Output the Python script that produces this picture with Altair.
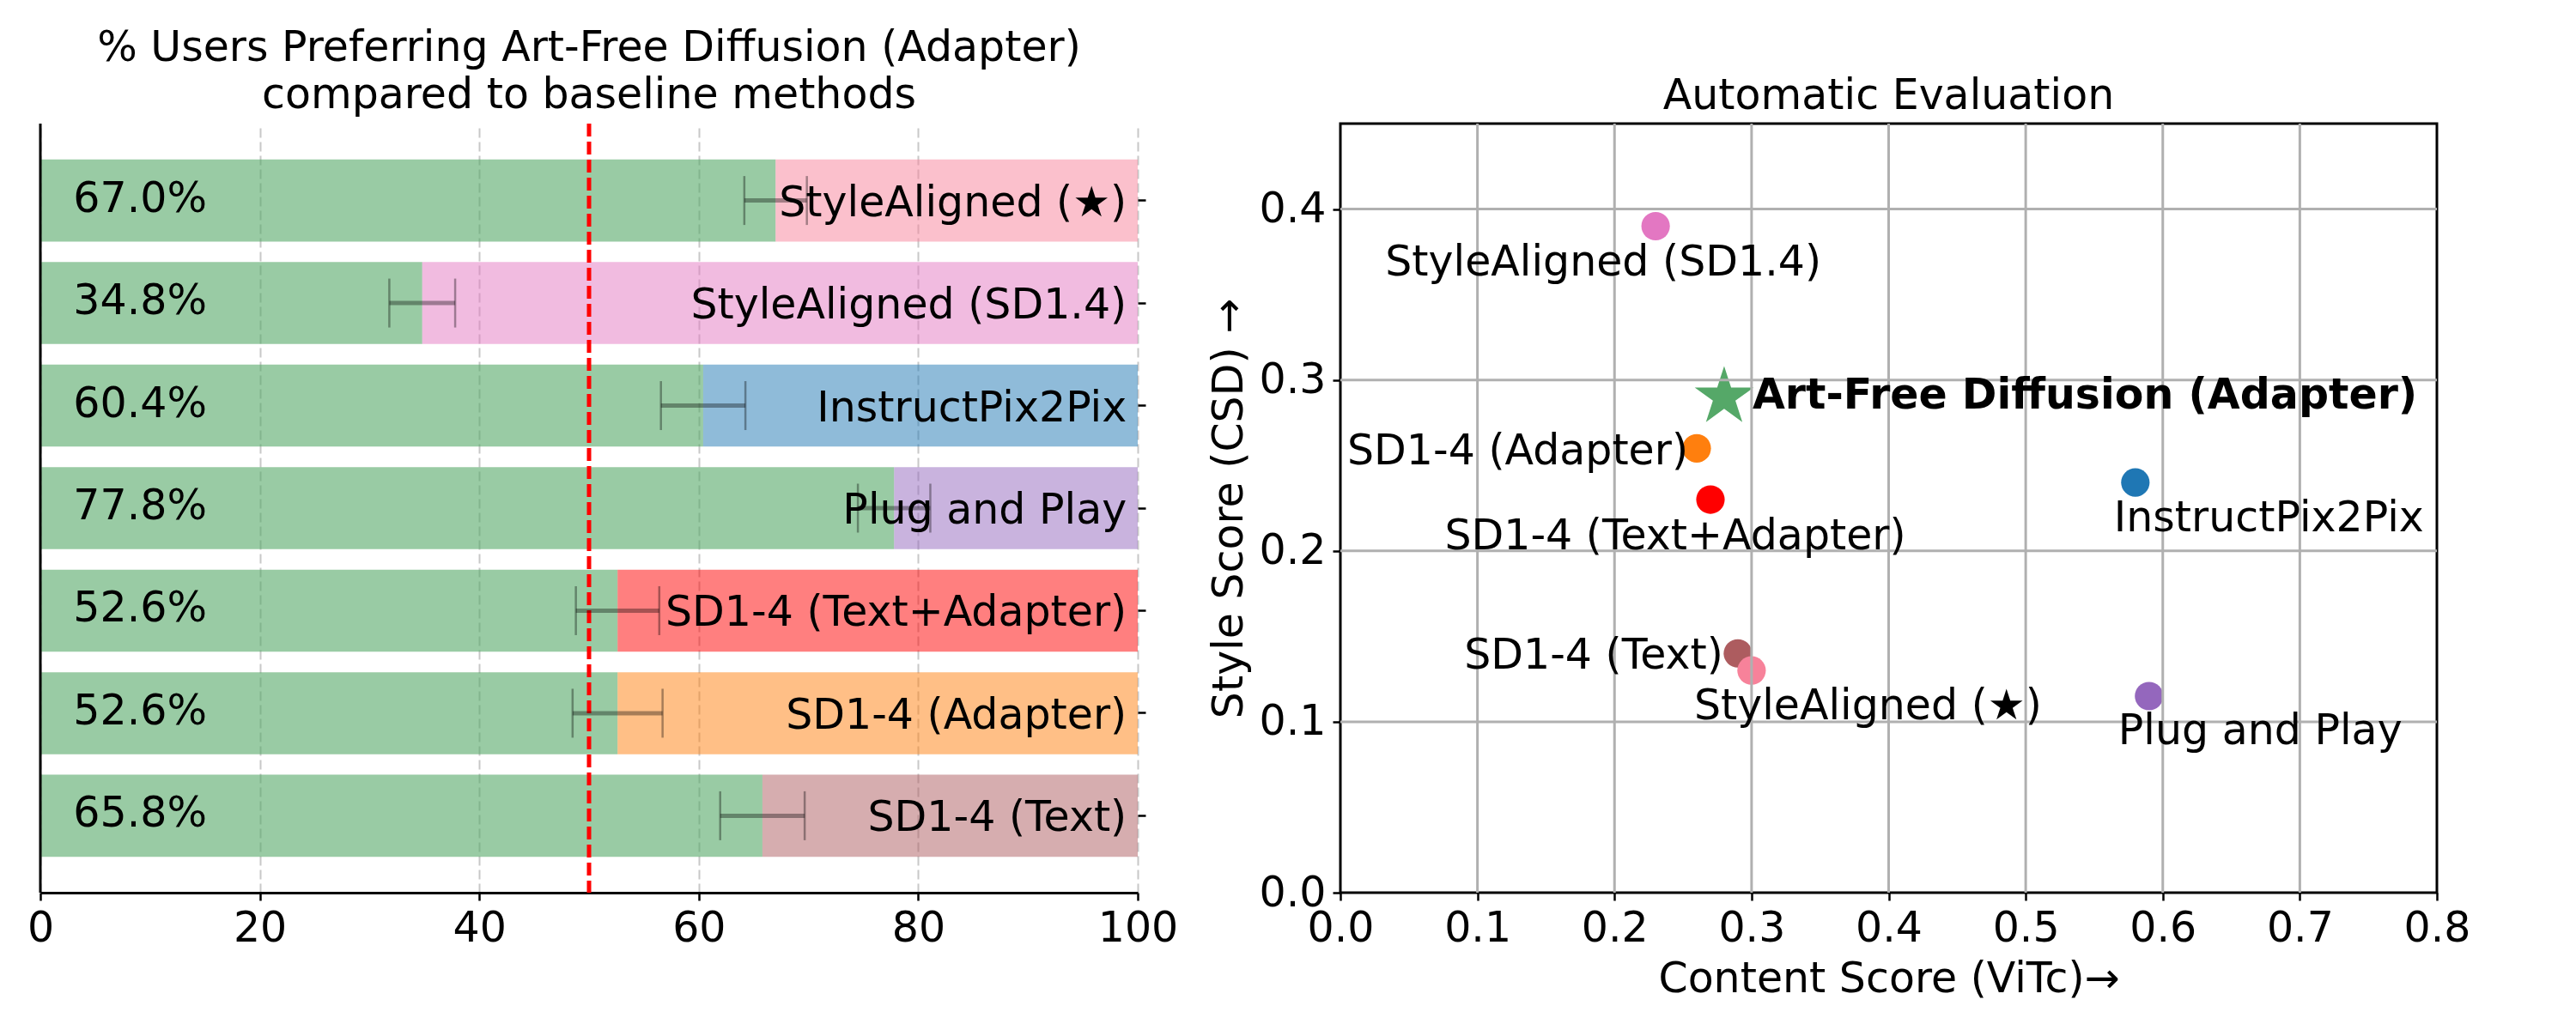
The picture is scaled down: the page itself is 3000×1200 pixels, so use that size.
import altair as alt
import pandas as pd

# ---------------- data: user study (left) ----------------
methods = ["StyleAligned (★)", "StyleAligned (SD1.4)", "InstructPix2Pix", "Plug and Play",
           "SD1-4 (Text+Adapter)", "SD1-4 (Adapter)", "SD1-4 (Text)"]
preference = [67.0, 34.8, 60.4, 77.8, 52.6, 52.6, 65.8]
pref_err = [2.85, 3.0, 3.85, 3.3, 3.8, 4.1, 3.85]
method_colors = ["#f7829a", "#e377c2", "#1f77b4", "#9467bd", "#ff0000", "#ff7f0e", "#ad5c5f"]
pref_ticks = [0, 20, 40, 60, 80, 100]
chance_level = 50
left_title = ["% Users Preferring Art-Free Diffusion (Adapter)", "compared to baseline methods"]

# ---------------- data: automatic evaluation (right) ----------------
eval_names = ["StyleAligned (SD1.4)", "SD1-4 (Adapter)", "SD1-4 (Text+Adapter)", "InstructPix2Pix",
              "Plug and Play", "SD1-4 (Text)", "StyleAligned (★)"]
content_score = [0.23, 0.26, 0.27, 0.58, 0.59, 0.29, 0.30]
style_score = [0.39, 0.26, 0.23, 0.24, 0.115, 0.14, 0.13]
ours_name = "Art-Free Diffusion (Adapter)"
ours_content = [0.28]
ours_style = [0.29]
content_ticks = [0.0, 0.1, 0.2, 0.3, 0.4, 0.5, 0.6, 0.7, 0.8]
style_ticks = [0.0, 0.1, 0.2, 0.3, 0.4]
style_max = 0.45

FONT = "DejaVu Sans"
FS = 49
GREEN = "#55a868"
STAR = ("M0,-1L0.2245,-0.309L0.9511,-0.309L0.3633,0.118L0.5878,0.809L0,0.382"
        "L-0.5878,0.809L-0.3633,0.118L-0.9511,-0.309L-0.2245,-0.309Z")

# ================= left chart =================
bar_df = pd.DataFrame({"method": methods, "pref": preference, "err": pref_err})
bar_df["lo"] = bar_df["pref"] - bar_df["err"]
bar_df["hi"] = bar_df["pref"] + bar_df["err"]

xs_bar = alt.Scale(domain=[0, 100], nice=False)
y_bar = alt.Y("method:N", sort=methods,
              scale=alt.Scale(domain=methods, paddingInner=0.2, paddingOuter=0.35),
              axis=alt.Axis(orient="right", labels=False, domain=False, ticks=True, tickSize=9,
                            tickWidth=2.5, tickColor="black", grid=False, title=None))
x_axis_bar = alt.Axis(values=pref_ticks, format="d", title=None, grid=True, gridDash=[11, 5],
                      gridColor="#c8c8c8", gridWidth=2, domainColor="black", domainWidth=3,
                      tickColor="black", tickWidth=2.5, tickSize=9, labelFontSize=FS,
                      labelColor="black", labelPadding=8, labelFlush=False, labelOverlap=False)

base = alt.Chart(bar_df)
green = base.mark_bar(color=GREEN, opacity=0.6).encode(
    x=alt.X("pref:Q", scale=xs_bar, axis=x_axis_bar), y=y_bar)
rest = base.mark_bar(opacity=0.5).encode(
    x=alt.X("pref:Q", scale=xs_bar), x2=alt.datum(100), y=alt.Y("method:N", sort=methods),
    color=alt.Color("method:N", scale=alt.Scale(domain=methods, range=method_colors), legend=None))
one = alt.Chart(pd.DataFrame({"k": [0]}))
spine = one.mark_rule(color="black", strokeWidth=3).encode(x=alt.datum(0))
chance = one.mark_rule(color="red", strokeWidth=5, strokeDash=[15, 6]).encode(x=alt.datum(chance_level))
err_line = base.mark_rule(color="black", opacity=0.35, strokeWidth=5).encode(
    x="lo:Q", x2="hi:Q", y=alt.Y("method:N", sort=methods))
cap_lo = base.mark_tick(color="black", opacity=0.35, thickness=2.5, size=57).encode(
    x="lo:Q", y=alt.Y("method:N", sort=methods))
cap_hi = base.mark_tick(color="black", opacity=0.35, thickness=2.5, size=57).encode(
    x="hi:Q", y=alt.Y("method:N", sort=methods))
pct = base.transform_calculate(label="format(datum.pref, '.1f') + '%'").mark_text(
    align="left", baseline="middle", dy=-2, fontSize=FS, font=FONT, color="black").encode(
    x=alt.datum(3), y=alt.Y("method:N", sort=methods), text="label:N")
names = base.mark_text(align="right", baseline="middle", dy=3, fontSize=FS, font=FONT,
                       color="black").encode(
    x=alt.datum(99), y=alt.Y("method:N", sort=methods), text="method:N")

left = alt.layer(green, rest, spine, chance, err_line, cap_lo, cap_hi, pct, names).properties(
    width=1278, height=896, title=alt.Title(left_title),
    view=alt.ViewBackground(stroke="transparent"))

# ================= right chart =================
color_of = dict(zip(methods, method_colors))
pts = pd.DataFrame({"name": eval_names, "content": content_score, "style": style_score})
ours = pd.DataFrame({"name": [ours_name], "content": ours_content, "style": ours_style})
lab = pd.concat([pts, ours], ignore_index=True)

xs = alt.Scale(domain=[0, 0.8], nice=False)
ys = alt.Scale(domain=[0, style_max], nice=False)
x_ax = alt.Axis(values=content_ticks, format=".1f", grid=False, domain=False, tickColor="black",
                tickWidth=2.5, tickSize=9, labelFontSize=FS, labelColor="black", labelPadding=8,
                labelFlush=False, labelOverlap=False, title="Content Score (ViTc)→",
                titleFontSize=FS, titleFontWeight="normal", titleColor="black", titlePadding=10)
y_ax = alt.Axis(values=style_ticks, format=".1f", grid=False, domain=False, tickColor="black",
                tickWidth=2.5, tickSize=9, labelFontSize=FS, labelColor="black", labelPadding=8,
                labelFlush=False, labelOverlap=False, title="Style Score (CSD) →",
                titleFontSize=FS, titleFontWeight="normal", titleColor="black", titlePadding=10)

circles = alt.Chart(pts).mark_circle(size=1100, opacity=1).encode(
    x=alt.X("content:Q", scale=xs, axis=x_ax), y=alt.Y("style:Q", scale=ys, axis=y_ax),
    color=alt.Color("name:N", scale=alt.Scale(domain=eval_names,
                                              range=[color_of[n] for n in eval_names]), legend=None),
    order=alt.value(0))
star = alt.Chart(ours).mark_point(shape=STAR, filled=True, size=5200, color=GREEN, opacity=1,
                                  strokeWidth=0).encode(x="content:Q", y="style:Q")

gx = [v for v in content_ticks if 0 < v < 0.8]
gy = [v for v in style_ticks if 0 < v < style_max]
grid_v = alt.Chart(pd.DataFrame({"v": gx})).mark_rule(color="#b0b0b0", strokeWidth=3).encode(x="v:Q")
grid_h = alt.Chart(pd.DataFrame({"v": gy})).mark_rule(color="#b0b0b0", strokeWidth=3).encode(y="v:Q")

# label placement (style only): align, dx, dy, weight
label_style = {
    "StyleAligned (SD1.4)": ("center", -61, 58, "normal"),
    "SD1-4 (Adapter)": ("right", -10, 19, "normal"),
    "SD1-4 (Text+Adapter)": ("center", -41, 58, "normal"),
    "InstructPix2Pix": ("left", -25, 57, "normal"),
    "Plug and Play": ("left", -36, 56, "normal"),
    "SD1-4 (Text)": ("right", -17, 18, "normal"),
    "StyleAligned (★)": ("left", -67, 57, "normal"),
    ours_name: ("left", 33, 13, "bold"),
}
texts = []
for n, (al, dx, dy, fw) in label_style.items():
    texts.append(alt.Chart(lab).transform_filter(alt.datum.name == n).mark_text(
        align=al, baseline="alphabetic", dx=dx, dy=dy, fontSize=FS, font=FONT, fontWeight=fw,
        color="black").encode(x="content:Q", y="style:Q", text="name:N"))

right = alt.layer(circles, star, grid_v, grid_h, *texts).properties(
    width=1277, height=896, title=alt.Title("Automatic Evaluation"),
    view=alt.ViewBackground(stroke="black", strokeWidth=3))

chart = alt.hconcat(left, right, spacing=236, bounds="flush").properties(
    padding={"left": 30, "top": 31, "right": 10, "bottom": 10}, background="white"
).configure(font=FONT).configure_title(
    fontSize=FS, font=FONT, fontWeight="normal", anchor="middle", color="black", lineHeight=55,
    offset=6
).configure_axis(labelFont=FONT, titleFont=FONT)

chart.save("out.html", embed_options={"renderer": "svg", "actions": False})
